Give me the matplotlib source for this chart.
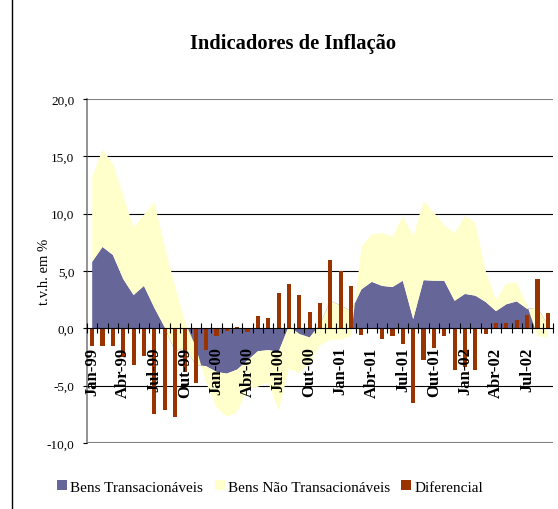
import numpy as np
import matplotlib
matplotlib.use("Agg")
import matplotlib.pyplot as plt
from matplotlib.patches import Patch
from matplotlib.lines import Line2D

# monthly categories Jan-99 .. Set-02
meses = ['Jan', 'Fev', 'Mar', 'Abr', 'Mai', 'Jun', 'Jul', 'Ago', 'Set', 'Out', 'Nov', 'Dez']
anos = ['99', '00', '01', '02']
categorias = [m + '-' + a for a in anos for m in meses][:45]

# t.v.h. em %
bens_transacionaveis = [5.8, 7.1, 6.4, 4.3, 2.9, 3.7, 1.8, 0.1, -2.0, -1.7,
                        -3.2, -3.3, -3.8, -3.95, -3.6, -2.8, -2.0, -1.9, -2.05, 0.2,
                        -0.5, -0.8, 0.35, 2.4, 2.0, 1.5, 3.4, 4.05, 3.7, 3.6,
                        4.15, 0.8, 4.2, 4.15, 4.15, 2.4, 3.0, 2.85, 2.3, 1.5,
                        2.1, 2.35, 1.7, 1.8, 0.3]
bens_nao_transacionaveis = [7.4, 8.5, 7.95, 7.3, 5.9, 6.2, 9.2, 7.1, 5.7, 2.2,
                            1.6, -1.4, -3.15, -3.75, -3.7, -2.5, -3.1, -2.8, -5.15, -3.7,
                            -3.4, -2.25, -1.85, -3.4, -3.0, -2.2, 3.7, 4.15, 4.6, 4.4,
                            5.65, 7.2, 6.9, 5.95, 4.85, 5.9, 6.8, 6.35, 2.7, 1.0,
                            1.8, 1.65, 0.3, -2.5, -1.1]
diferencial = [-1.5, -1.55, -1.5, -2.5, -3.2, -2.4, -7.5, -7.1, -7.7, -3.8,
               -4.8, -1.9, -0.65, -0.2, 0.1, -0.35, 1.1, 0.9, 3.1, 3.9,
               2.9, 1.45, 2.2, 6.0, 5.0, 3.7, -0.55, -0.1, -0.9, -0.65,
               -1.4, -6.5, -2.8, -1.7, -0.7, -3.6, -3.4, -3.6, -0.5, 0.47,
               0.47, 0.73, 1.16, 4.3, 1.34]

cor_t = '#666699'
cor_nt = '#FFFFCC'
cor_dif = '#993300'

plt.rcParams['font.family'] = ['Liberation Serif', 'DejaVu Serif']

fig = plt.figure(figsize=(5.58, 5.10), dpi=100)
ax = fig.add_axes([87/558, 1 - 444/510, (553 - 87)/558, (444 - 100)/510])

# left edge of the chart frame
fig.add_artist(Line2D([12/558, 12/558], [0, 1], color='black', lw=1))

x = np.arange(len(categorias))

# gridlines behind the areas
for g in [-5, 5, 10, 15]:
    ax.axhline(g, color='black', lw=0.8, zorder=0.5)
for g in [-10, 20]:
    ax.axhline(g, color='#808080', lw=1.5, zorder=0.5)

ax.stackplot(x, bens_transacionaveis, bens_nao_transacionaveis,
             colors=[cor_t, cor_nt], zorder=1, lw=0)
ax.bar(x, diferencial, width=0.4, color=cor_dif, zorder=1.2)

ax.set_xlim(-0.5, len(categorias) - 0.5)
ax.set_ylim(-10, 20)

ax.set_axisbelow(False)
for s in ['top', 'right']:
    ax.spines[s].set_visible(False)
ax.spines['bottom'].set_position(('data', 0))
ax.spines['bottom'].set_zorder(3)
ax.spines['left'].set_color('#808080')
ax.spines['left'].set_linewidth(1.2)

ax.set_xticks(x[::3])
ax.set_xticklabels(categorias[::3], rotation=90, fontweight='bold', fontsize=12,
                   va='top', ha='center')
ax.set_xticks(np.arange(len(categorias) + 1) - 0.5, minor=True)
ax.tick_params(axis='x', which='major', length=0, pad=13)
ax.tick_params(axis='x', which='minor', direction='inout', length=7, width=0.8)

ax.set_yticks([-10, -5, 0, 5, 10, 15, 20])
ax.set_yticklabels([('%.1f' % v).replace('.', ',') for v in [-10, -5, 0, 5, 10, 15, 20]],
                   fontsize=9.5)
ax.tick_params(axis='y', length=3, width=0.8, pad=6)
ax.set_ylabel('t.v.h. em %', fontsize=10.5)
ax.yaxis.set_label_coords(-0.077, 0.5)

fig.text(0.526, 1 - 44/510, 'Indicadores de Inflação', ha='center', va='center',
         fontsize=14.8, fontweight='bold')

handles = [Patch(facecolor=cor_t, label='Bens Transacionáveis'),
           Patch(facecolor=cor_nt, label='Bens Não Transacionáveis'),
           Patch(facecolor=cor_dif, label='Diferencial')]
fig.legend(handles=handles, loc='center', bbox_to_anchor=(0.484, 1 - 488/510), ncol=3,
           frameon=False, fontsize=11, handlelength=0.65, handleheight=0.65,
           handletextpad=0.2, columnspacing=0.75)

fig.savefig('out.png', dpi=100)
